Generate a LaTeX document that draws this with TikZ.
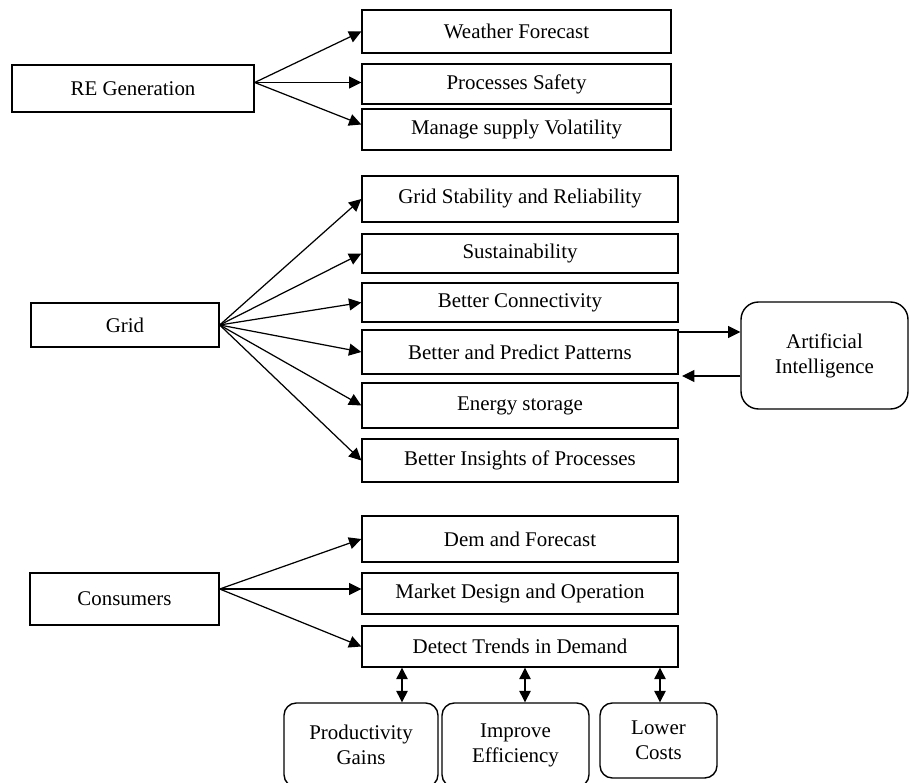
\documentclass[tikz,border=0pt]{standalone}
\usepackage{fontspec}
\setmainfont{Liberation Serif}
\usetikzlibrary{arrows.meta,positioning}

\begin{document}
\begin{tikzpicture}[x=0.02cm, y=-0.02cm,
  box/.style={draw, line width=0.8pt, inner sep=1pt, align=center, minimum width=6.32cm},
  rbox/.style={box, rounded corners=7pt},
  arr/.style={line width=0.7pt, -{Triangle[length=7pt,width=6.8pt]}},
  darr/.style={line width=0.7pt, {Triangle[length=6.5pt,width=6.5pt]}-{Triangle[length=6.5pt,width=6.5pt]}}]
  \fontsize{11.9}{14.2}\selectfont
  \useasboundingbox (0,0) rectangle (909,783);
  \clip (0,0) rectangle (909,783);

  \node[box, minimum width=4.84cm, minimum height=0.94cm] (regen) at (133,88.5) {RE Generation};
  \node[box, minimum width=6.18cm, minimum height=0.86cm] (wf) at (516.5,31.5) {Weather Forecast};
  \node[box, minimum width=6.18cm, minimum height=0.8cm] (ps) at (516.5,84) {Processes Safety};
  \node[box, minimum width=6.18cm, minimum height=0.82cm] (msv) at (516.5,129.5) {Manage supply Volatility};

  \node[box, minimum width=3.76cm, minimum height=0.88cm] (grid) at (125,325) {Grid};
  \node[box, minimum height=0.92cm] (gsr) at (520,199) {Grid Stability and Reliability};
  \node[box, minimum height=0.78cm] (sus) at (520,253.5) {Sustainability};
  \node[box, minimum height=0.78cm] (bc) at (520,302.5) {Better Connectivity};
  \node[box, minimum height=0.88cm] (bpp) at (520,352) {Better and Predict Patterns};
  \node[box, minimum height=0.9cm] (es) at (520,405.5) {Energy storage};
  \node[box, minimum height=0.86cm] (bip) at (520,460.5) {Better Insights of Processes};
  \node[box, rounded corners=0.35cm, minimum width=3.34cm, minimum height=2.14cm] (ai) at (824.5,355.5) {Artificial\\Intelligence};
  \coordinate (back) at (682,376);

  \node[box, minimum width=3.78cm, minimum height=1.04cm] (cons) at (124.5,599) {Consumers};
  \node[box, minimum height=0.92cm] (dem) at (520,539) {Dem and Forecast};
  \node[box, minimum height=0.82cm] (mdo) at (520,593.5) {Market Design and Operation};
  \node[box, minimum height=0.82cm] (dtd) at (520,646.5) {Detect Trends in Demand};
  \node[rbox, minimum width=3.08cm, minimum height=1.68cm] (pg) at (361,745) {Productivity\\Gains};
  \node[rbox, minimum width=2.94cm, minimum height=1.68cm] (ie) at (515.5,745) {Improve\\Efficiency};
  \node[rbox, minimum width=2.34cm, minimum height=1.5cm] (lc) at (658.5,740.5) {Lower\\Costs};

  \coordinate (r0) at ([yshift=0.12cm]regen.east);
  \coordinate (c0) at ([yshift=0.2cm]cons.east);

  % RE generation
  \draw[arr] (r0) -- (wf.west);
  \draw[arr] (r0) -- (ps.west |- r0);
  \draw[arr] (r0) -- ([yshift=0.1cm]msv.west);

  % grid
  \draw[arr] (grid.east) -- (gsr.west);
  \draw[arr] (grid.east) -- (sus.west);
  \draw[arr] (grid.east) -- (bc.west);
  \draw[arr] (grid.east) -- (bpp.west);
  \draw[arr] (grid.east) -- (es.west);
  \draw[arr] (grid.east) -- (bip.west);
  \draw[arr] (bpp.east |- 0,332) -- (ai.west |- 0,332);
  \draw[arr] (ai.west |- back) -- (back);

  % consumers
  \draw[arr] (c0) -- (dem.west);
  \draw[arr] (c0) -- (mdo.west |- c0);
  \draw[arr] (c0) -- (dtd.west);
  \draw[darr] (dtd.south -| 402,0) -- (pg.north -| 402,0);
  \draw[darr] (dtd.south -| 525,0) -- (ie.north -| 525,0);
  \draw[darr] (dtd.south -| 660,0) -- (lc.north -| 660,0);
\end{tikzpicture}
\end{document}
